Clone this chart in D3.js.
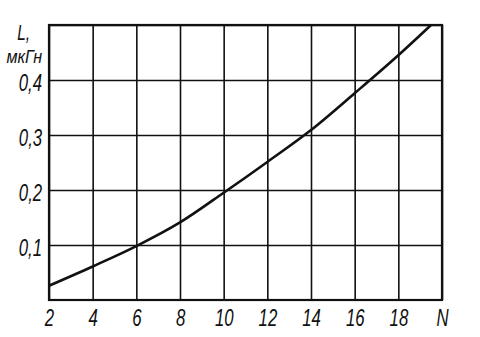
<!DOCTYPE html>
<html>
<head>
<meta charset="utf-8">
<script src="https://cdn.jsdelivr.net/npm/d3@7"></script>
<style>
  body { margin: 0; background: #fff; }
  text {
    font-family: "Liberation Sans", "DejaVu Sans", sans-serif;
    font-style: italic;
    fill: #111;
    transform-box: fill-box;
    transform: scaleX(0.7);
  }
  .xlab text { transform-origin: 50% 50%; }
  .ylab text, text.ytitle { transform-origin: 100% 50%; }
  text.unit { transform: scaleX(0.85); }
</style>
</head>
<body>
<div id="chart"></div>
<script>
// inductance L vs number of turns N
const turns = [2, 4, 6, 8, 10, 12, 14, 16, 18, 19.5];
const inductance = [0.026, 0.061, 0.098, 0.141, 0.195, 0.251, 0.309, 0.376, 0.445, 0.5];
const xTicks = [2, 4, 6, 8, 10, 12, 14, 16, 18, 20];
const yTicks = [0.1, 0.2, 0.3, 0.4, 0.5];
const xLastLabel = 'N';
const yTitle = ['L,', 'мкГн'];

const margin = { top: 25, right: 38, bottom: 37, left: 49 };
const width = 480 - margin.left - margin.right;
const height = 337 - margin.top - margin.bottom;

const svg = d3
  .select('#chart')
  .append('svg')
  .attr('width', 480)
  .attr('height', 337)
  .append('g')
  .attr('transform', `translate(${margin.left},${margin.top})`);

const x = d3.scaleLinear().domain([2, 20]).range([0, width]);
const y = d3.scaleLinear().domain([0, 0.5]).range([height, 0]);

// vertical grid + x labels
const xAxis = svg
  .append('g')
  .attr('class', 'xlab')
  .attr('transform', `translate(0,${height})`)
  .call(
    d3
      .axisBottom(x)
      .tickValues(xTicks)
      .tickSize(-height)
      .tickPadding(9)
      .tickFormat((d) => (d === 20 ? xLastLabel : d))
  );
xAxis.select('.domain').remove();
xAxis.selectAll('line').attr('stroke', '#111').attr('stroke-width', 1.6);
xAxis.selectAll('text').style('font-size', '24px').attr('dy', '0.72em');

// horizontal grid + y labels
const yAxis = svg
  .append('g')
  .attr('class', 'ylab')
  .call(
    d3
      .axisLeft(y)
      .tickValues(yTicks)
      .tickSize(-width)
      .tickPadding(7)
      .tickFormat((d) => (d === 0.5 ? '' : d3.format('.1f')(d).replace('.', ',')))
  );
yAxis.select('.domain').remove();
yAxis.selectAll('line').attr('stroke', '#111').attr('stroke-width', 1.6);
yAxis.selectAll('text').style('font-size', '24px').attr('dy', '0.45em');

// frame
svg
  .append('rect')
  .attr('x', 0)
  .attr('y', 0)
  .attr('width', width)
  .attr('height', height)
  .attr('fill', 'none')
  .attr('stroke', '#111')
  .attr('stroke-width', 2.2);

// axis title
svg
  .append('text')
  .attr('class', 'ytitle')
  .attr('x', -19)
  .attr('y', y(0.5) + 15)
  .attr('text-anchor', 'end')
  .style('font-size', '22px')
  .text(yTitle[0]);
svg
  .append('text')
  .attr('class', 'ytitle unit')
  .attr('x', -7)
  .attr('y', y(0.5) + 38)
  .attr('text-anchor', 'end')
  .style('font-size', '19px')
  .text(yTitle[1]);

// curve
const line = d3
  .line()
  .x((d, i) => x(turns[i]))
  .y((d) => y(d))
  .curve(d3.curveMonotoneX);

svg
  .append('path')
  .datum(inductance)
  .attr('d', line)
  .attr('fill', 'none')
  .attr('stroke', '#111')
  .attr('stroke-width', 2.6);
</script>
</body>
</html>
